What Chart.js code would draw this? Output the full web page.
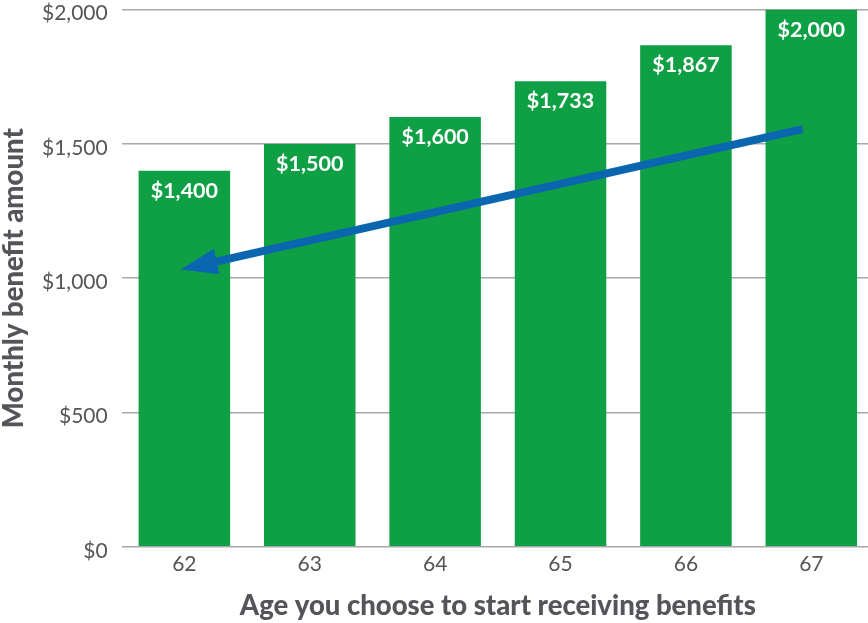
<!DOCTYPE html>
<html>
<head>
<meta charset="utf-8">
<script src="https://cdn.jsdelivr.net/npm/chart.js@4"></script>
<style>
html,body{margin:0;padding:0;background:#fff;overflow:hidden;}
#wrap{position:relative;width:880px;height:640px;margin-top:-17px;}
</style>
</head>
<body>
<div id="wrap"><canvas id="c"></canvas></div>
<script>
const ages = ['62','63','64','65','66','67'];
const benefits = [1400, 1500, 1600, 1733, 1867, 2000];
const benefitLabels = ['$1,400','$1,500','$1,600','$1,733','$1,867','$2,000'];
const yTicks = [0, 500, 1000, 1500, 2000];
const arrowStart = [4.93, 1555];
const arrowEnd = [-0.03, 1032];

const GREEN = '#0fa046';
const BLUE = '#0b66b0';
const TEXT = '#555559';
const FONT = 'Lato, "Open Sans", sans-serif';

const labelPlugin = {
  id: 'barLabels',
  afterDatasetsDraw(chart) {
    const ctx = chart.ctx;
    const meta = chart.getDatasetMeta(0);
    ctx.save();
    ctx.fillStyle = '#ffffff';
    ctx.font = 'bold 21.5px ' + FONT;
    ctx.textAlign = 'center';
    ctx.textBaseline = 'middle';
    meta.data.forEach((bar, i) => {
      ctx.fillText(benefitLabels[i], bar.x, bar.y + 20);
    });
    ctx.restore();
  }
};

const arrowPlugin = {
  id: 'arrow',
  afterDatasetsDraw(chart) {
    const xs = chart.scales.x, ys = chart.scales.y;
    const x1 = xs.getPixelForValue(arrowStart[0]), y1 = ys.getPixelForValue(arrowStart[1]);
    const x2 = xs.getPixelForValue(arrowEnd[0]), y2 = ys.getPixelForValue(arrowEnd[1]);
    const ang = Math.atan2(y2 - y1, x2 - x1);
    const headLen = 37, headW = 13;
    const bx = x2 - headLen * Math.cos(ang), by = y2 - headLen * Math.sin(ang);
    const ctx = chart.ctx;
    ctx.save();
    ctx.strokeStyle = BLUE;
    ctx.fillStyle = BLUE;
    ctx.lineWidth = 8;
    ctx.beginPath();
    ctx.moveTo(x1, y1);
    ctx.lineTo(bx + 4 * Math.cos(ang), by + 4 * Math.sin(ang));
    ctx.stroke();
    ctx.beginPath();
    ctx.moveTo(x2, y2);
    ctx.lineTo(bx + headW * Math.sin(ang), by - headW * Math.cos(ang));
    ctx.lineTo(bx - headW * Math.sin(ang), by + headW * Math.cos(ang));
    ctx.closePath();
    ctx.fill();
    ctx.restore();
  }
};

new Chart(document.getElementById('c'), {
  type: 'bar',
  data: {
    labels: ages,
    datasets: [{
      data: benefits,
      backgroundColor: GREEN,
      borderWidth: 0,
      categoryPercentage: 0.73,
      barPercentage: 1.0
    }]
  },
  options: {
    responsive: true,
    maintainAspectRatio: false,
    animation: false,
    devicePixelRatio: 1,
    layout: { padding: { top: 0, right: 6, bottom: 0, left: 0 } },
    plugins: { legend: { display: false }, tooltip: { enabled: false } },
    scales: {
      x: {
        grid: { display: false, drawTicks: false },
        border: { display: false },
        ticks: { color: TEXT, font: { family: FONT, size: 21 }, padding: 5 },
        title: {
          display: true,
          text: 'Age you choose to start receiving benefits',
          color: TEXT,
          font: { family: FONT, size: 27.5, weight: 900 },
          padding: { top: 8, bottom: 0 }
        }
      },
      y: {
        min: 0, max: 2000,
        afterBuildTicks(axis) { axis.ticks = yTicks.map(v => ({ value: v })); },
        grid: { color: '#a8a8ac', lineWidth: 1.5, drawTicks: false },
        border: { display: false },
        ticks: {
          color: TEXT,
          font: { family: FONT, size: 21 },
          padding: 14,
          labelOffset: 4,
          callback: v => '$' + v.toLocaleString('en-US')
        },
        title: {
          display: true,
          text: 'Monthly benefit amount',
          color: TEXT,
          font: { family: FONT, size: 27.5, weight: 900 },
          padding: { top: -2, bottom: -3 }
        }
      }
    }
  },
  plugins: [labelPlugin, arrowPlugin]
});
</script>
</body>
</html>
